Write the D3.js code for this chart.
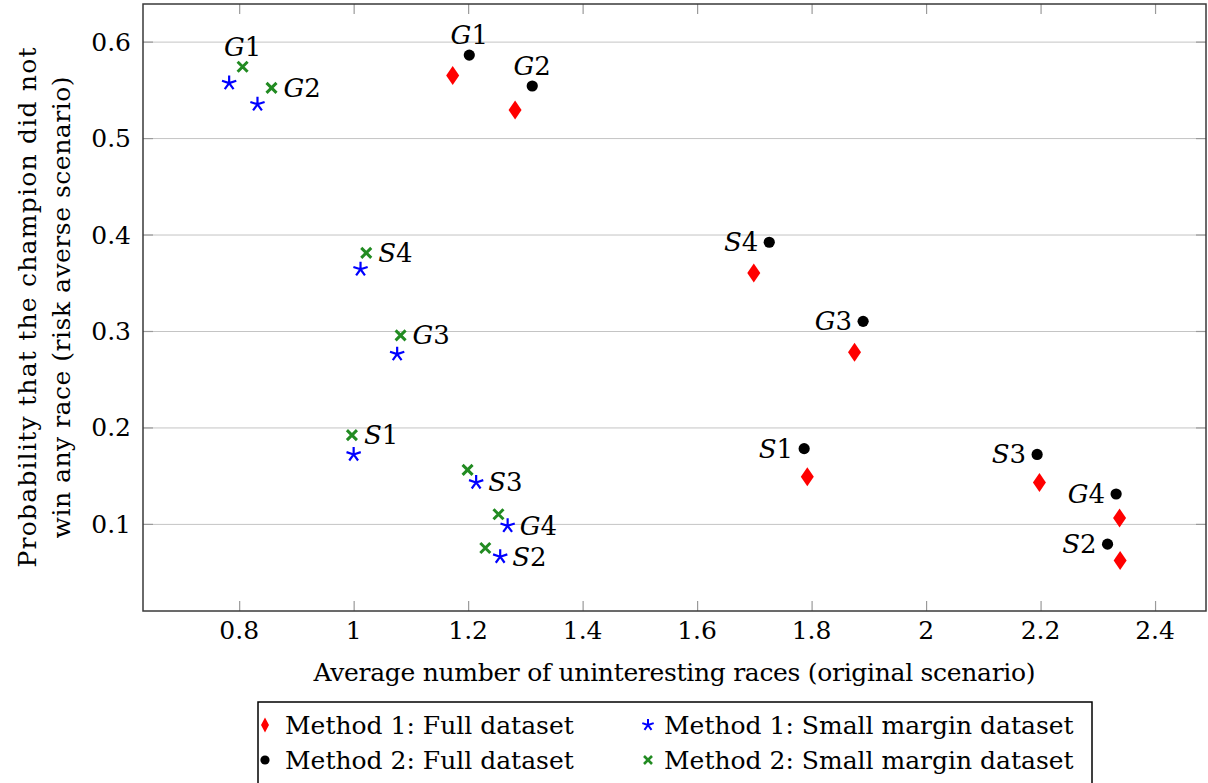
<!DOCTYPE html>
<html>
<head>
<meta charset="utf-8">
<script src="https://cdn.jsdelivr.net/npm/d3@7"></script>
<style>
  html, body { margin: 0; padding: 0; background: #fff; }
  svg text { font-family: "DejaVu Serif", serif; fill: #000; }
</style>
</head>
<body>
<svg id="chart" width="1208" height="783"></svg>
<script>
// scenario order shared by every series
const scenarios = ['G1', 'G2', 'S4', 'G3', 'S1', 'S3', 'G4', 'S2'];

const m1FullX = [1.173, 1.282, 1.699, 1.875, 1.7925, 2.198, 2.338, 2.339];
const m1FullY = [0.565, 0.529, 0.360, 0.278, 0.149, 0.143, 0.106, 0.062];
const m2FullX = [1.202, 1.312, 1.726, 1.890, 1.787, 2.194, 2.332, 2.317];
const m2FullY = [0.586, 0.554, 0.392, 0.310, 0.178, 0.172, 0.131, 0.079];
const m1SmallX = [0.7825, 0.832, 1.012, 1.076, 1.000, 1.214, 1.269, 1.256];
const m1SmallY = [0.557, 0.535, 0.364, 0.276, 0.172, 0.143, 0.098, 0.066];
const m2SmallX = [0.806, 0.8565, 1.022, 1.082, 0.997, 1.199, 1.253, 1.230];
const m2SmallY = [0.574, 0.552, 0.381, 0.2955, 0.192, 0.156, 0.110, 0.075];

const xTicks = [0.8, 1, 1.2, 1.4, 1.6, 1.8, 2, 2.2, 2.4];
const yTicks = [0.1, 0.2, 0.3, 0.4, 0.5, 0.6];

const seriesNames = [
  'Method 1: Full dataset',
  'Method 2: Full dataset',
  'Method 1: Small margin dataset',
  'Method 2: Small margin dataset'
];

// where each point's scenario tag goes (null = no tag)
const tagsM1Full = [null, null, null, null, null, null, null, null];
const tagsM2Full = ['above', 'above', 'left', 'left', 'left', 'left', 'left', 'left'];
const tagsM1Small = [null, null, null, null, null, 'right', 'right', 'right'];
const tagsM2Small = ['above', 'right', 'right', 'right', 'right', null, null, null];

const svg = d3.select('#chart');
const margin = { top: 4, right: 2, bottom: 172, left: 143 };
const W = +svg.attr('width');
const H = +svg.attr('height');
const width = W - margin.left - margin.right;
const height = H - margin.top - margin.bottom;
const fs = 25;

const x = d3.scaleLinear().domain([0.632, 2.489]).range([0, width]);
const y = d3.scaleLinear().domain([0.0097, 0.639]).range([height, 0]);

const g = svg.append('g').attr('transform', `translate(${margin.left},${margin.top})`);

// grid
g.append('g')
  .call(d3.axisLeft(y).tickValues(yTicks).tickSize(-width).tickFormat(''))
  .call((s) => s.select('.domain').remove())
  .selectAll('line').attr('stroke', '#c4c4c4').attr('stroke-width', 1);

// inward ticks on all four sides
const tickLen = 10;
const tickStyle = (s) => {
  s.select('.domain').remove();
  s.selectAll('line').attr('stroke', '#9a9a9a').attr('stroke-width', 1.2);
};
g.append('g').attr('transform', `translate(0,${height})`)
  .call(d3.axisBottom(x).tickValues(xTicks).tickSize(-tickLen).tickFormat(''))
  .call(tickStyle);
g.append('g')
  .call(d3.axisTop(x).tickValues(xTicks).tickSize(-tickLen).tickFormat(''))
  .call(tickStyle);
g.append('g')
  .call(d3.axisLeft(y).tickValues(yTicks).tickSize(-tickLen).tickFormat(''))
  .call(tickStyle);
g.append('g').attr('transform', `translate(${width},0)`)
  .call(d3.axisRight(y).tickValues(yTicks).tickSize(-tickLen).tickFormat(''))
  .call(tickStyle);

// tick labels
const fmt = d3.format('~g');
g.append('g').selectAll('text').data(xTicks).enter().append('text')
  .attr('x', (d) => x(d)).attr('y', height + 28)
  .attr('text-anchor', 'middle').attr('font-size', fs)
  .text(fmt);
g.append('g').selectAll('text').data(yTicks).enter().append('text')
  .attr('x', -12).attr('y', (d) => y(d) + 9)
  .attr('text-anchor', 'end').attr('font-size', fs)
  .text(fmt);

// frame
g.append('rect')
  .attr('width', width).attr('height', height)
  .attr('fill', 'none').attr('stroke', '#3a3a3a').attr('stroke-width', 1.5);

// axis titles
g.append('text')
  .attr('x', width / 2).attr('y', height + 70)
  .attr('text-anchor', 'middle').attr('font-size', fs)
  .attr('textLength', 722).attr('lengthAdjust', 'spacing')
  .text('Average number of uninteresting races (original scenario)');

const yTitle = svg.append('text')
  .attr('transform', `translate(0,${margin.top + height / 2}) rotate(-90)`)
  .attr('text-anchor', 'middle').attr('font-size', fs);
yTitle.append('tspan').attr('x', 0).attr('y', 36)
  .attr('textLength', 520).attr('lengthAdjust', 'spacing')
  .text('Probability that the champion did not');
yTitle.append('tspan').attr('x', 0).attr('y', 70)
  .attr('textLength', 462).attr('lengthAdjust', 'spacing')
  .text('win any race (risk averse scenario)');

// marker drawers
const drawDiamond = (sel, hw, hh) => sel.append('path')
  .attr('d', `M0,${-hh}L${hw},0L0,${hh}L${-hw},0Z`).attr('fill', '#ff0000');
const drawCircle = (sel, r) => sel.append('circle').attr('r', r).attr('fill', '#000');
const drawStar = (sel, r, sw) => {
  const arms = d3.range(5).map((i) => {
    const a = -Math.PI / 2 + i * 2 * Math.PI / 5;
    return `M0,0L${r * Math.cos(a)},${r * Math.sin(a)}`;
  }).join('');
  sel.append('path').attr('d', arms).attr('stroke', '#0000ff')
    .attr('stroke-width', sw).attr('fill', 'none');
};
const drawCross = (sel, r, sw) => sel.append('path')
  .attr('d', `M${-r},${-r}L${r},${r}M${-r},${r}L${r},${-r}`)
  .attr('stroke', '#228b22').attr('stroke-width', sw).attr('fill', 'none');

const series = [
  { xs: m1FullX, ys: m1FullY, tags: tagsM1Full, mark: (s) => drawDiamond(s, 6.5, 9.5), legend: (s) => drawDiamond(s, 4, 7.5) },
  { xs: m2FullX, ys: m2FullY, tags: tagsM2Full, mark: (s) => drawCircle(s, 5.6), legend: (s) => drawCircle(s, 4.6) },
  { xs: m1SmallX, ys: m1SmallY, tags: tagsM1Small, mark: (s) => drawStar(s, 7.5, 2.2), legend: (s) => drawStar(s, 6, 2) },
  { xs: m2SmallX, ys: m2SmallY, tags: tagsM2Small, mark: (s) => drawCross(s, 5, 3), legend: (s) => drawCross(s, 4, 2.6) }
];

// draw points (full-dataset series drawn last so they sit on top)
const drawOrder = [2, 3, 0, 1];
drawOrder.forEach((si) => {
  const sr = series[si];
  const pts = scenarios.map((name, i) => ({ name, x: sr.xs[i], y: sr.ys[i], tag: sr.tags[i] }));
  g.append('g').selectAll('g').data(pts).enter().append('g')
    .attr('transform', (d) => `translate(${x(d.x)},${y(d.y)})`)
    .each(function () { sr.mark(d3.select(this)); });

  const tagged = pts.filter((d) => d.tag);
  const t = g.append('g').selectAll('text').data(tagged).enter().append('text')
    .attr('font-size', fs + 1)
    .attr('x', (d) => x(d.x) + (d.tag === 'right' ? 12 : d.tag === 'left' ? -11 : 0))
    .attr('y', (d) => y(d.y) + (d.tag === 'above' ? -11 : 9))
    .attr('text-anchor', (d) => (d.tag === 'right' ? 'start' : d.tag === 'left' ? 'end' : 'middle'));
  t.append('tspan').attr('font-style', 'italic').text((d) => d.name[0]);
  t.append('tspan').text((d) => d.name.slice(1));
});

// legend
const lg = svg.append('g').attr('transform', 'translate(258,702)');
lg.append('rect').attr('width', 834).attr('height', 100)
  .attr('fill', '#fff').attr('stroke', '#000').attr('stroke-width', 1.5);
const legendPos = [
  { mx: 7, tx: 27, row: 0 },
  { mx: 7, tx: 27, row: 1 },
  { mx: 390, tx: 406, row: 0 },
  { mx: 390, tx: 406, row: 1 }
];
seriesNames.forEach((name, i) => {
  const p = legendPos[i];
  const cy = 23 + p.row * 35;
  series[i].legend(lg.append('g').attr('transform', `translate(${p.mx},${cy})`));
  lg.append('text').attr('x', p.tx).attr('y', cy + 8.5)
    .attr('font-size', fs).text(name);
});
</script>
</body>
</html>
